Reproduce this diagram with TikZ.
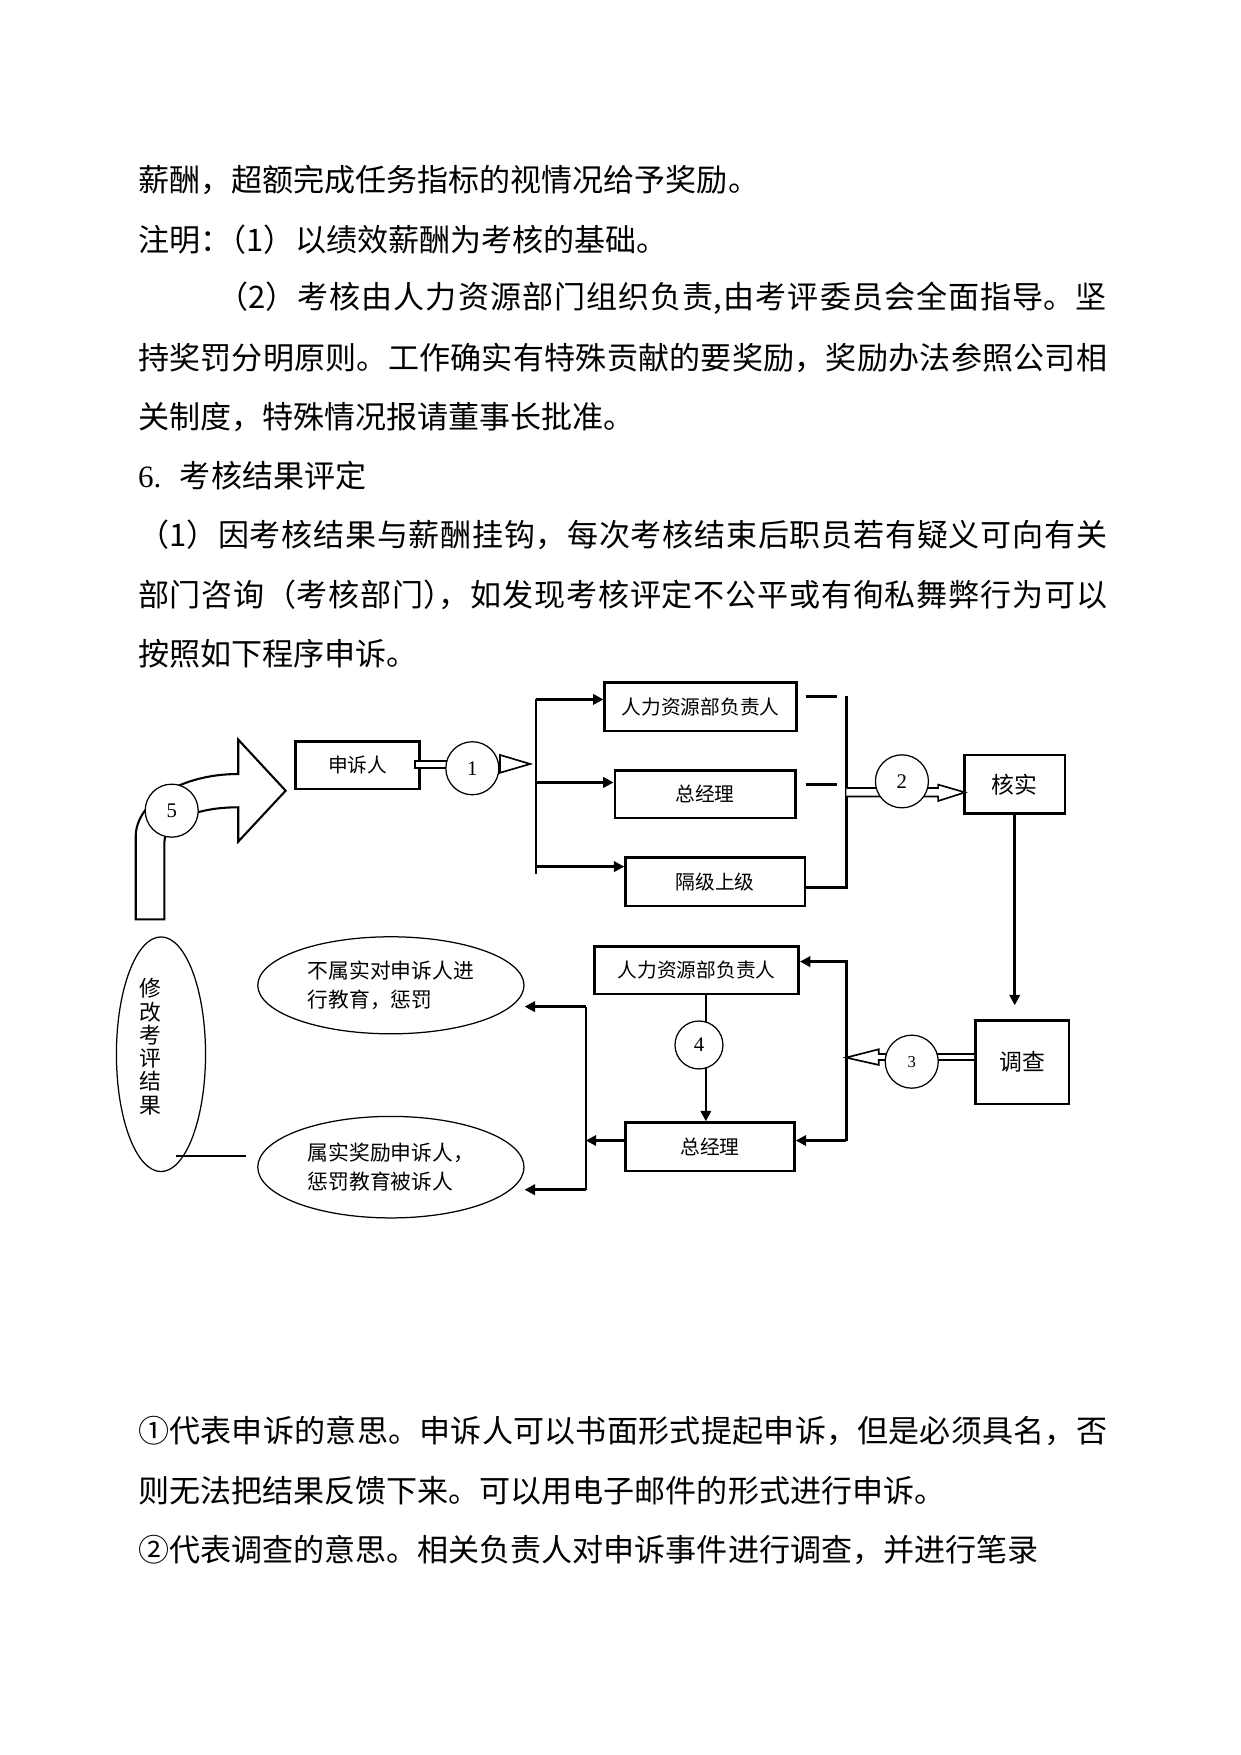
\documentclass[tikz,border=0pt]{standalone}
\usepackage{fontspec}
\setmainfont{Noto Sans CJK SC}
\newfontfamily\numfont{Liberation Serif}
\usetikzlibrary{arrows.meta,shapes.geometric,positioning}
\XeTeXlinebreaklocale "zh"
\XeTeXlinebreakskip=0pt plus 1fil
\XeTeXinterchartokenstate=1
\XeTeXinterchartoks 1 1 = {\hskip 0pt plus 1fil\relax}
\XeTeXinterchartoks 1 2 = {\hskip 0pt plus 1fil\relax}
\XeTeXinterchartoks 1 3 = {\hskip 0pt plus 1fil\relax}
\XeTeXinterchartoks 3 1 = {\hskip 0pt plus 1fil\relax}
\XeTeXinterchartoks 3 2 = {\hskip 0pt plus 1fil\relax}
\XeTeXinterchartoks 3 3 = {\hskip 0pt plus 1fil\relax}
\newcommand\pxu{0.019091cm}
\newlength\linew
\setlength\linew{16.40cm}
\newcommand\fullline[2][\linew]{\parbox[c]{#1}{\parindent=0pt\parfillskip=0pt\relax #2}}

\tikzset{
  textline/.style={anchor=west, inner sep=0pt, font=\fontsize{14.95}{18}\selectfont},
  box/.style={draw, line width=1.2pt, inner sep=0pt, font=\fontsize{9.5}{11}\selectfont},
  bigbox/.style={box, font=\fontsize{11}{13}\selectfont},
  num/.style={draw, circle, line width=0.6pt, fill=white, inner sep=0pt, minimum size=47*\pxu, font=\numfont\fontsize{10}{12}\selectfont},
  oval/.style={draw, ellipse, line width=0.6pt, inner sep=0pt, align=left, font=\fontsize{10}{14.2}\selectfont},
  link/.style={line width=1.2pt},
  arr/.style={line width=1.2pt, -{Triangle[length=5pt,width=5pt]}},
  hollow/.style={draw, line width=0.8pt, fill=white},
}

\begin{document}
\begin{tikzpicture}[x=\pxu, y=-\pxu]
\fill[white] (0,0) rectangle (1100,1555.7);
\useasboundingbox (0,0) rectangle (1100,1555.7);

% text above
\node[textline] (l1) at (122,159.6) {薪酬，超额完成任务指标的视情况给予奖励。};
\node[textline] (l2) at (122,212.1) {注明：\kern-0.5em（1）以绩效薪酬为考核的基础。};
\node[textline] (l3) at (192,264.5) {\fullline[15.06cm]{（2）考核由人力资源部门组织负责,由考评委员会全面指导。坚}};
\node[textline] (l4) at (122,317) {\fullline{持奖罚分明原则。工作确实有特殊贡献的要奖励，奖励办法参照公司相}};
\node[textline] (l5) at (122,369.5) {关制度，特殊情况报请董事长批准。};
\node[textline] (l6) at (122,421.9) {{\numfont 6.}\hspace{0.6em}考核结果评定};
\node[textline] (l7) at (122,474.4) {\fullline{（1）因考核结果与薪酬挂钩，每次考核结束后职员若有疑义可向有关}};
\node[textline] (l8) at (122,526.9) {\fullline{部门咨询（考核部门）\kern-0.5em，如发现考核评定不公平或有徇私舞弊行为可以}};
\node[textline] (l9) at (122,579.4) {按照如下程序申诉。};

% boxes
\node[box, minimum width=110*\pxu, minimum height=42*\pxu] (sr) at (317,678.4) {申诉人};
\node[box, minimum width=170*\pxu, minimum height=43*\pxu] (hrA) at (621,626.5) {人力资源部负责人};
\node[box, minimum width=160*\pxu, minimum height=42*\pxu] (gmA) at (625,704) {总经理};
\node[box, minimum width=159*\pxu, minimum height=43*\pxu] (upA) at (634,781.5) {隔级上级};
\node[bigbox, minimum width=89*\pxu, minimum height=52*\pxu] (hs) at (899.5,695.3) {核实};
\node[bigbox, minimum width=83*\pxu, minimum height=74*\pxu] (dc) at (906,941.6) {调查};
\node[box, minimum width=181*\pxu, minimum height=42*\pxu] (hrB) at (617.5,860) {人力资源部负责人};
\node[box, minimum width=150*\pxu, minimum height=43*\pxu] (gmB) at (629.3,1016.5) {总经理};

% ovals
\node[oval, minimum width=236*\pxu, minimum height=86*\pxu] (e1) at (346.5,873.4) {不属实对申诉人进\\行教育，惩罚};
\node[oval, minimum width=236*\pxu, minimum height=90*\pxu] (e2) at (346.5,1034.6) {属实奖励申诉人，\\惩罚教育被诉人};
\node[oval, minimum width=79*\pxu, minimum height=208*\pxu] (e5) at (142.7,934.5) {};
\node[align=center, inner sep=0pt, font=\fontsize{10.5}{11.2}\selectfont] (e5t) at (133.7,927.8) {修\\改\\考\\评\\结\\果};

% step 1
\draw[hollow] (368,674.3) rectangle (396,681);
\draw[hollow] (443.2,669.2) -- (470,677.2) -- (443.2,685) -- cycle;
\node[num] (c1) at (418.7,681) {1};
\coordinate (b1) at (475.3,620);
\coordinate (b2) at (475.3,693.6);
\coordinate (b3) at (475.3,768.2);
\draw[link] (b1) -- (475.3,774.7);
\draw[arr] (b1) -- (b1 -| hrA.west);
\draw[arr] (b2) -- (b2 -| gmA.west);
\draw[arr] (b3) -- (b3 -| upA.west);

% step 2
\coordinate (s1) at (714.5,617.2);
\coordinate (s2) at (714.5,695.2);
\draw[link] (s1) -- ++(27,0);
\draw[link] (s2) -- ++(27,0);
\coordinate (v2t) at (750.2,617.2);
\coordinate (v2b) at (750.2,786.5);
\draw[link] (v2t) -- (v2b) -- (v2b -| upA.east);
\coordinate (hsin) at (855.4,702.4);
\draw[hollow] (750.2,698.5) -- (831.6,698.5) -- (831.6,695.5) -- (hsin) -- (831.6,710) -- (831.6,706) -- (750.2,706);
\node[num] (c2) at (799.5,692.6) {2};
\draw[arr, shorten >=0.237cm] (hs.south) -- (hs.south |- dc.north);

% step 3
\coordinate (v3in) at (750,937.5);
\draw[hollow] (dc.west |- 0,934.3) -- (779,934.3) -- (779,930.1) -- (v3in) -- (779,944) -- (779,939.6) -- (dc.west |- 0,939.6);
\node[num, font=\numfont\fontsize{8}{10}\selectfont] (c3) at (808.2,941.1) {3};
\coordinate (v3t) at (750.2,852.4);
\coordinate (v3b) at (750.2,1011);
\draw[arr] (v3b) -- (v3t) -- (v3t -| hrB.east);
\draw[arr] (v3b) -- (v3b -| gmB.east);

% step 4
\coordinate (p4) at (625.7,0);
\draw[arr] (hrB.south -| p4) -- (gmB.north -| p4);
\node[num, minimum size=42.5*\pxu] (c4) at (619.6,926.3) {4};
\coordinate (v4m) at (519.3,1011);
\coordinate (v4t) at (519.3,892.3);
\coordinate (v4b) at (519.3,1054.6);
\draw[arr] (v4m -| gmB.west) -- (v4m);
\draw[link] (v4t) -- (v4b);
\draw[arr] (v4t) -- (v4t -| e1.east);
\draw[arr] (v4b) -- (v4b -| e2.east);
\coordinate (m1) at (156.4,1024.8);
\draw[link, shorten >=0.19cm] (m1) -- (m1 -| e2.west);

% step 5
\draw[hollow, line width=1pt] (120.3,815) -- (120.3,741.6) .. controls (120.3,711) and (161,686.1) .. (211.2,686.1)
  -- (211.2,655.6) -- (253.2,700.9) -- (211.2,746) -- (211.2,715.6) .. controls (175,715.6) and (145.7,727) .. (145.7,747)
  -- (145.7,815) -- cycle;
\node[num] (c5) at (152.2,718.6) {5};

% text below
\node[textline] (l10) at (122,1268.2) {\fullline{①代表申诉的意思。申诉人可以书面形式提起申诉，但是必须具名，否}};
\node[textline] (l11) at (122,1321.3) {则无法把结果反馈下来。可以用电子邮件的形式进行申诉。};
\node[textline] (l12) at (122,1373.7) {②代表调查的意思。相关负责人对申诉事件进行调查，并进行笔录};
\end{tikzpicture}
\end{document}
